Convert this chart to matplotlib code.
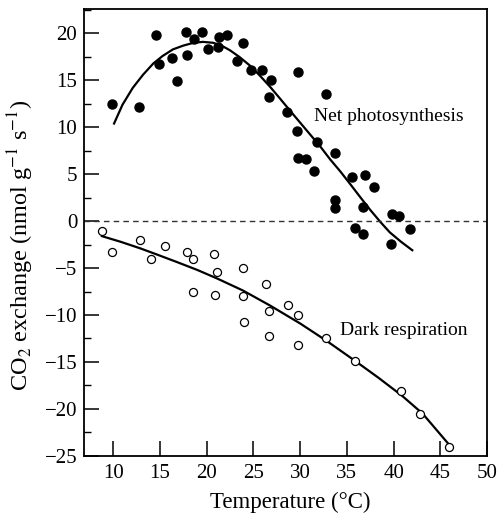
"""CO2 exchange vs temperature"""
import matplotlib
matplotlib.use("Agg")
import matplotlib.pyplot as plt
from matplotlib.ticker import MultipleLocator

plt.rcParams['font.family'] = ['Liberation Serif', 'DejaVu Serif']
plt.rcParams['mathtext.fontset'] = 'stix'

# net photosynthesis (filled dots)
photo_t = [9.9, 12.8, 14.6, 14.9, 16.3, 16.8, 17.8, 17.9, 18.6, 19.5,
           20.2, 21.2, 21.3, 22.2, 23.2, 23.9, 24.7, 25.9, 26.7, 26.9,
           28.6, 29.7, 29.8, 29.8, 30.6, 31.5, 31.8, 32.8, 33.7, 33.7,
           33.7, 35.6, 35.9, 36.7, 36.7, 36.9, 37.9, 39.7, 39.8, 40.6, 41.8]
photo_co2 = [12.5, 12.2, 19.8, 16.7, 17.4, 14.9, 20.2, 17.7, 19.4, 20.2,
             18.3, 18.6, 19.6, 19.8, 17.1, 19.0, 16.1, 16.1, 13.2, 15.0,
             11.6, 9.6, 15.9, 6.7, 6.6, 5.3, 8.4, 13.5, 7.3, 2.3,
             1.4, 4.7, -0.7, 1.5, -1.4, 4.9, 3.6, -2.4, 0.8, 0.5, -0.8]

# fitted curve for photosynthesis
photo_fit_t = [10.1, 11.0, 12.1, 13.2, 14.3, 15.3, 16.4, 17.5, 18.6, 19.6,
               20.7, 21.6, 22.5, 23.5, 24.6, 25.7, 26.8, 27.9, 28.9, 30.0,
               31.1, 32.2, 33.2, 34.3, 35.4, 36.4, 37.5, 38.6, 39.6, 40.8, 42.0]
photo_fit_co2 = [10.4, 12.4, 14.2, 15.6, 16.8, 17.6, 18.3, 18.7, 19.0, 19.1,
                 19.0, 18.7, 18.2, 17.5, 16.6, 15.5, 14.3, 13.0, 11.8, 10.5,
                 9.2, 7.9, 6.6, 5.3, 3.9, 2.6, 1.2, -0.1, -1.2, -2.2, -3.1]

# dark respiration (open circles)
resp_t = [8.8, 9.9, 12.9, 14.0, 15.6, 17.9, 18.5, 18.5, 20.8, 21.1,
          20.9, 23.9, 23.9, 24.0, 26.4, 26.7, 26.7, 28.7, 29.8, 29.8,
          32.8, 35.9, 40.8, 42.8, 45.9]
resp_co2 = [-1.1, -3.3, -2.0, -4.0, -2.6, -3.3, -4.0, -7.6, -3.5, -5.4,
            -7.9, -5.0, -8.0, -10.8, -6.7, -9.6, -12.2, -8.9, -10.0, -13.2,
            -12.4, -14.9, -18.1, -20.5, -24.1]

# fitted curve for respiration
resp_fit_t = [8.8, 10.8, 12.9, 14.8, 16.8, 19.0, 21.1, 23.9, 26.8, 30.0,
              32.9, 35.9, 38.4, 40.9, 43.1, 46.1]
resp_fit_co2 = [-1.6, -2.2, -2.9, -3.6, -4.35, -5.2, -6.1, -7.4, -9.0, -10.9,
                -12.8, -14.9, -16.7, -18.6, -20.5, -24.0]

x_ticks = [10, 15, 20, 25, 30, 35, 40, 45, 50]
y_ticks = [-25, -20, -15, -10, -5, 0, 5, 10, 15, 20]

fig = plt.figure(figsize=(4.98, 5.15), dpi=100)
ax = fig.add_axes([0.169, 0.115, 0.809, 0.8675])

ax.plot(photo_fit_t, photo_fit_co2, color='black', lw=1.6)
ax.plot(resp_fit_t, resp_fit_co2, color='black', lw=1.6)

ax.axhline(0, color='#333333', lw=1.0, ls=(0, (4, 3)))

ax.plot(photo_t, photo_co2, 'o', color='black', ms=6.5)
ax.plot(resp_t, resp_co2, 'o', mfc='white', mec='black', mew=0.9, ms=5.8)

ax.text(31.5, 11.2, 'Net photosynthesis', fontsize=14, va='center')
ax.text(34.3, -11.6, 'Dark respiration', fontsize=14, va='center')

ax.set_xlim(6.9, 50)
ax.set_ylim(-25, 22.6)
ax.set_xticks(x_ticks)
ax.set_yticks(y_ticks)
ax.set_yticklabels([str(v).replace('-', '\u2212') for v in y_ticks])
ax.yaxis.set_minor_locator(MultipleLocator(2.5))
ax.tick_params(direction='in', length=11, width=1.1, labelsize=15,
               top=False, right=False)
ax.tick_params(axis='y', pad=5)
ax.tick_params(axis='x', pad=6)
ax.tick_params(which='minor', direction='in', length=5, width=1.0)
for s in ax.spines.values():
    s.set_linewidth(1.3)

ax.set_xlabel('Temperature (°C)', fontsize=16.5)
ax.xaxis.set_label_coords(0.512, -0.08)
ax.set_ylabel(r'CO$_2$ exchange (nmol g$^{-1}$ s$^{-1}$)', fontsize=17.5)
ax.yaxis.set_label_coords(-0.12, 0.47)

fig.savefig('out.png', dpi=100)
